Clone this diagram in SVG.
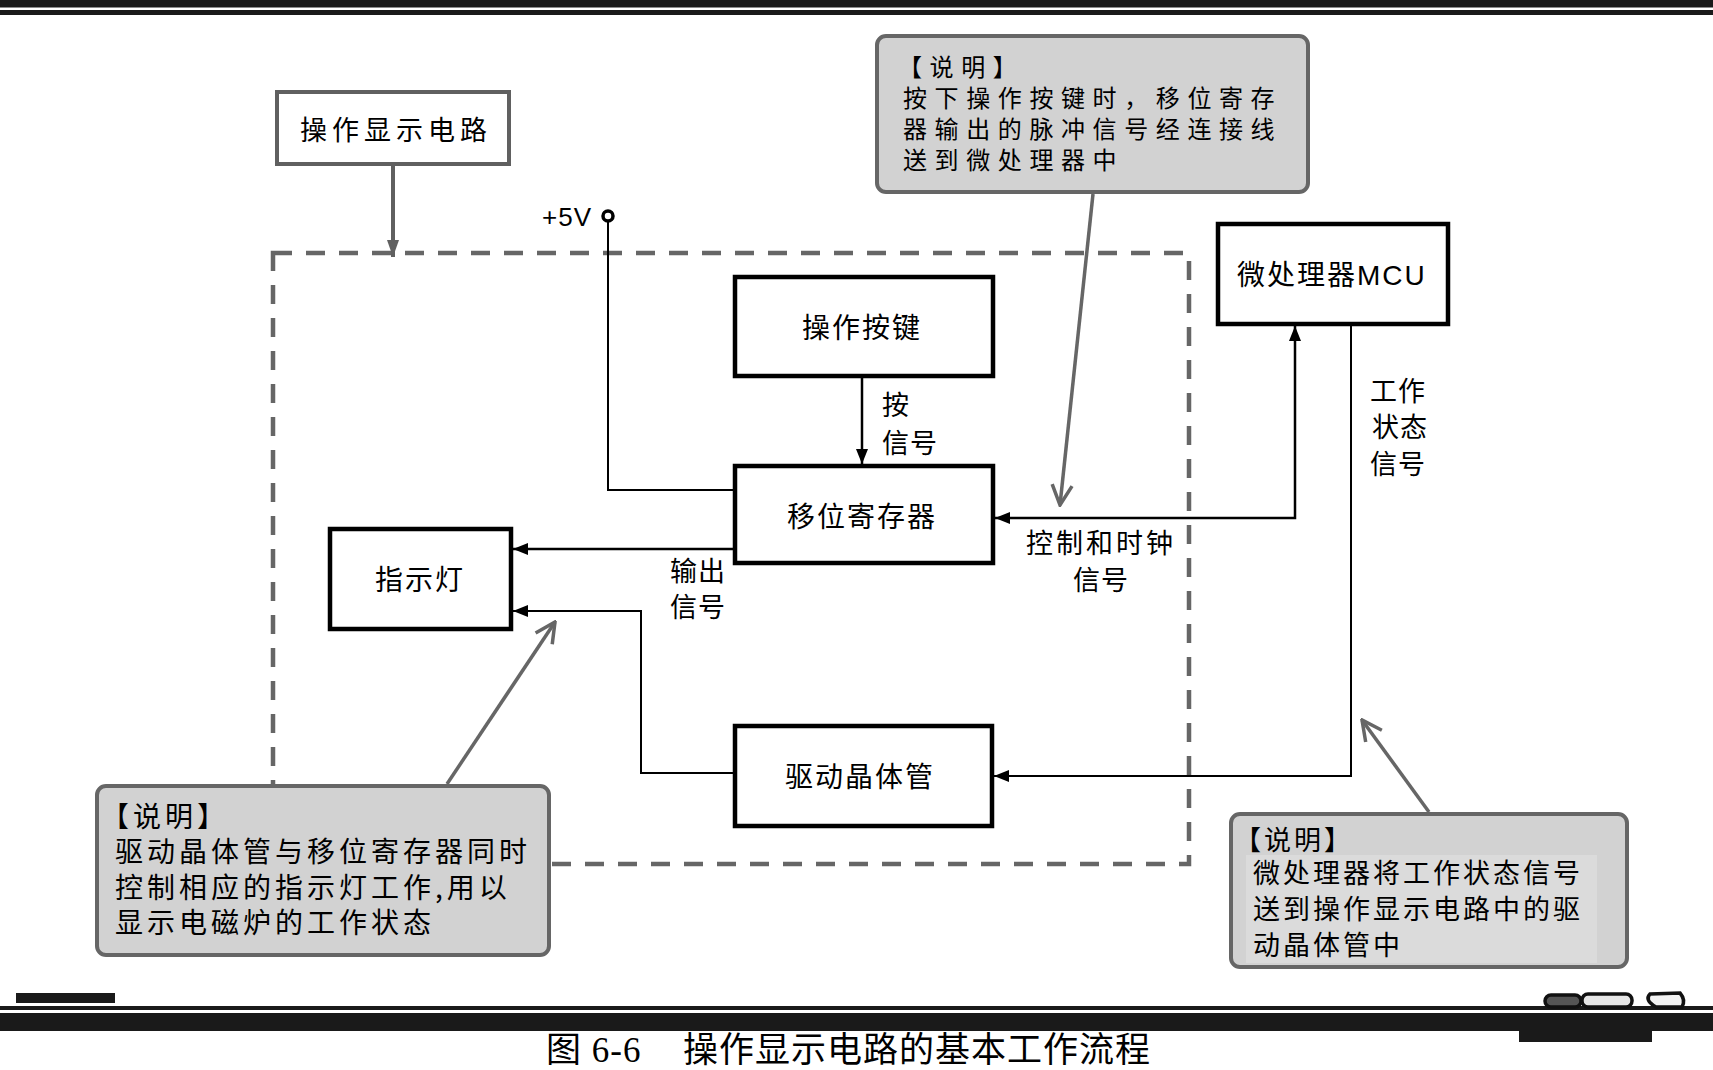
<svg xmlns="http://www.w3.org/2000/svg" width="1713" height="1070" viewBox="0 0 1713 1070">
<style>
.node{fill:#fff;stroke:#000;stroke-width:4.5}
.lbl{font-family:"Liberation Sans","Noto Sans CJK SC",sans-serif;font-size:28px;fill:#000;letter-spacing:2px}
.sig{font-family:"Noto Sans CJK SC",sans-serif;font-size:27px;fill:#000;letter-spacing:1px}
.note{fill:#d2d2d2;stroke:#666;stroke-width:4}
.ntxt{font-family:"Noto Sans CJK SC",sans-serif;font-size:27px;fill:#000}
.wire{fill:none;stroke:#000;stroke-width:2.5}
.thin{fill:none;stroke:#000;stroke-width:2}
.ptr{fill:none;stroke:#666;stroke-width:3.5}
</style>
<defs>
<marker id="ab" viewBox="0 0 15 12" refX="15" refY="6" markerWidth="15" markerHeight="12" markerUnits="userSpaceOnUse" orient="auto-start-reverse"><path d="M0,0 L15,6 L0,12 z" fill="#000"/></marker>
<marker id="ag" viewBox="0 0 12 17" refX="6" refY="17" markerWidth="12" markerHeight="17" markerUnits="userSpaceOnUse" orient="0"><path d="M0,0 L12,0 L6,17 z" fill="#606060"/></marker>
<marker id="av" viewBox="0 0 24 24" refX="22" refY="12" markerWidth="24" markerHeight="24" markerUnits="userSpaceOnUse" orient="auto"><path d="M2,2 L22,12 L2,22" fill="none" stroke="#666" stroke-width="3.5"/></marker>
</defs>
<rect x="0" y="0" width="1713" height="1070" fill="#fff"/>
<!-- page rules -->
<rect x="0" y="0" width="1713" height="7.5" fill="#1a1a1a"/>
<rect x="0" y="10" width="1713" height="5" fill="#1a1a1a"/>
<rect x="16" y="993" width="99" height="10" fill="#1a1a1a"/>
<rect x="0" y="1006" width="1713" height="4" fill="#1a1a1a"/>
<rect x="0" y="1013" width="1713" height="18" fill="#1a1a1a"/>
<rect x="1519" y="1030" width="133" height="12" fill="#1a1a1a"/>
<g stroke="#111" stroke-width="3.5">
<rect x="1545" y="995" width="36" height="12" rx="6" fill="#555"/>
<rect x="1582" y="994" width="50" height="13" rx="6" fill="#e6e6e6"/>
<path d="M1650,994 L1680,993 Q1686,1000 1682,1007 L1656,1007 Q1644,1000 1650,994 z" fill="#f2f2f2"/>
</g>
<!-- dashed boundary -->
<rect x="273" y="253" width="916" height="611" fill="none" stroke="#666" stroke-width="4.5" stroke-dasharray="19 14"/>
<!-- connectors -->
<g id="connectors">
<path d="M393,166 V257" fill="none" stroke="#606060" stroke-width="4" marker-end="url(#ag)"/>
<path class="thin" d="M608,221 V490 H733"/>
<circle cx="608" cy="216" r="5" fill="#fff" stroke="#000" stroke-width="3.5"/>
<path class="wire" d="M862,378 V464" marker-end="url(#ab)"/>
<path class="wire" d="M733,549 H513" marker-end="url(#ab)"/>
<path class="thin" d="M733,773 H641 V611 H513" marker-end="url(#ab)"/>
<path class="wire" d="M995,518 H1295 V326" marker-start="url(#ab)" marker-end="url(#ab)"/>
<path class="thin" d="M1351,326 V776 H994" marker-end="url(#ab)"/>
<path class="ptr" d="M1093,194 L1060,505" marker-end="url(#av)"/>
<path class="ptr" d="M447,784 L555,622" marker-end="url(#av)"/>
<path class="ptr" d="M1429,812 L1362,720" marker-end="url(#av)"/>
</g>
<!-- connector labels -->
<g id="labels">
<text class="lbl" x="542" y="226" style="font-size:26px;letter-spacing:1px">+5V</text>
<text class="sig" x="882" y="415">按</text>
<text class="sig" x="882" y="453">信号</text>
<text class="sig" x="670" y="581">输出</text>
<text class="sig" x="670" y="617">信号</text>
<text class="sig" x="1026" y="553" style="letter-spacing:3px">控制和时钟</text>
<text class="sig" x="1073" y="590">信号</text>
<text class="sig" x="1370" y="401">工作</text>
<text class="sig" x="1372" y="437">状态</text>
<text class="sig" x="1370" y="474">信号</text>
</g>
<!-- nodes -->
<g id="n-display">
<rect x="277" y="92" width="232" height="72" fill="#fff" stroke="#606060" stroke-width="4"/>
<text class="ntxt" x="300" y="140" style="letter-spacing:5px">操作显示电路</text>
</g>
<g id="n-key">
<rect class="node" x="735" y="277" width="258" height="99"/>
<text class="lbl" x="802" y="338">操作按键</text>
</g>
<g id="n-shift">
<rect class="node" x="735" y="466" width="258" height="97"/>
<text class="lbl" x="787" y="527">移位寄存器</text>
</g>
<g id="n-led">
<rect class="node" x="330" y="529" width="181" height="100"/>
<text class="lbl" x="375" y="590">指示灯</text>
</g>
<g id="n-driver">
<rect class="node" x="735" y="726" width="257" height="100"/>
<text class="lbl" x="785" y="787">驱动晶体管</text>
</g>
<g id="n-mcu">
<rect class="node" x="1218" y="224" width="230" height="100"/>
<text class="lbl" x="1237" y="285">微处理器MCU</text>
</g>
<!-- notes -->
<g id="note-top">
<rect class="note" x="877" y="36" width="431" height="156" rx="9"/>
<text class="ntxt" style="font-size:24px;letter-spacing:7.6px"><tspan x="898" y="76">【说明】</tspan><tspan x="903" y="107">按下操作按键时，移位寄存</tspan><tspan x="903" y="138">器输出的脉冲信号经连接线</tspan><tspan x="903" y="169">送到微处理器中</tspan></text>
</g>
<g id="note-left">
<rect class="note" x="97" y="786" width="452" height="169" rx="9"/>
<text class="ntxt" style="font-size:28px;letter-spacing:4px"><tspan x="101" y="827">【说明】</tspan><tspan x="115" y="862">驱动晶体管与移位寄存器同时</tspan><tspan x="115" y="898">控制相应的指示灯工作,用以</tspan><tspan x="115" y="933">显示电磁炉的工作状态</tspan></text>
</g>
<g id="note-right">
<rect class="note" x="1231" y="814" width="396" height="153" rx="9"/>
<rect x="1246" y="855" width="351" height="108" fill="#dbdbdb"/>
<text class="ntxt" style="letter-spacing:3px"><tspan x="1234" y="850">【说明】</tspan><tspan x="1253" y="883">微处理器将工作状态信号</tspan><tspan x="1253" y="919">送到操作显示电路中的驱</tspan><tspan x="1253" y="955">动晶体管中</tspan></text>
</g>
<!-- caption -->
<text x="546" y="1062" style="font-family:'Liberation Serif','Noto Sans CJK SC',serif;font-size:35px;letter-spacing:1px" fill="#000">图 6-6<tspan x="683">操作显示电路的基本工作流程</tspan></text>
</svg>
